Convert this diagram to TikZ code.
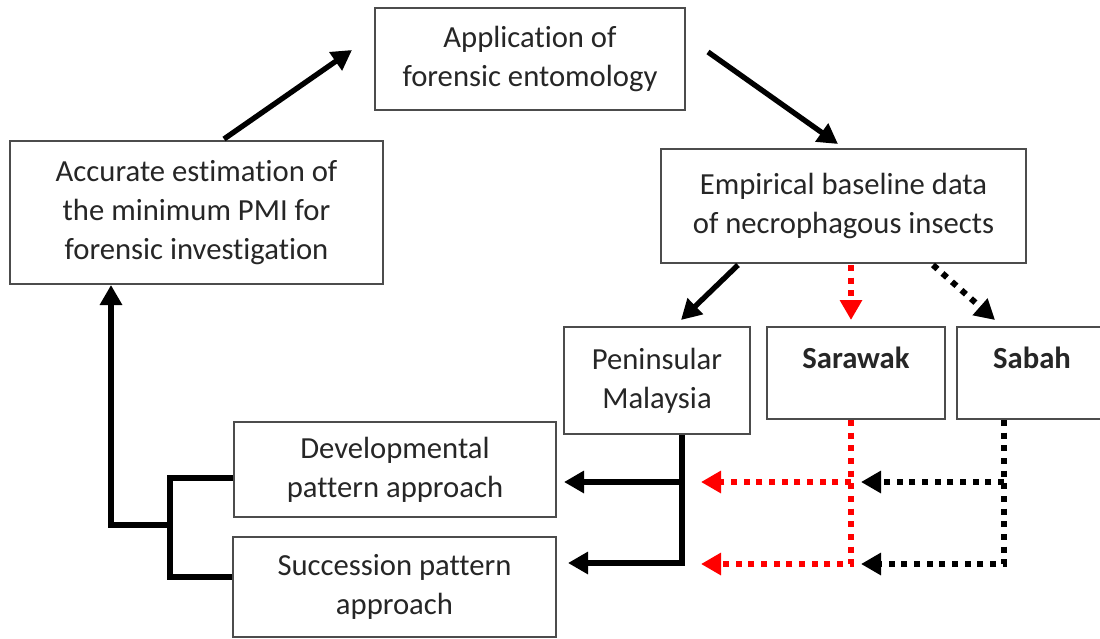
\documentclass[tikz,border=0pt]{standalone}
\usepackage{fontspec}
\setmainfont{Carlito}[Ligatures=CommonOff]
\usetikzlibrary{arrows.meta,calc}
\begin{document}
\begin{tikzpicture}[x=0.75pt,y=-0.75pt,
  box/.style={draw=black!70, line width=1.5pt, align=center, inner sep=0pt,
    font=\fontsize{23}{29}\selectfont, text=black!85},
  tip/.style={-{Triangle[length=15pt,width=16pt]}},
  arr/.style={line width=4pt, tip},
  ln/.style={line width=4pt},
  dotline/.style={line width=4.5pt, dash pattern=on 4.5pt off 5pt, tip},
]
\useasboundingbox (0,0) rectangle (1100,639);
\fill[white] (0,0) rectangle (1100,639);
% boxes
\node[box, minimum width=232.5pt, minimum height=76.5pt] (app) at (530,59)
  {Application of\\forensic entomology};
\node[box, minimum width=279.75pt, minimum height=107.25pt] (acc) at (196.5,212.5)
  {Accurate estimation of\\the minimum PMI for\\forensic investigation};
\node[box, minimum width=273.75pt, minimum height=85.5pt] (emp) at (843.5,206)
  {Empirical baseline data\\of necrophagous insects};
\node[box, minimum width=139.5pt, minimum height=80.25pt] (pen) at (657,380.5)
  {Peninsular\\Malaysia};
\node[box, minimum width=133.5pt, minimum height=69pt, text height=14pt, text depth=21.5pt] (sar) at (856,373)
  {\textbf{Sarawak}};
\node[box, minimum width=112.5pt, minimum height=69pt, text height=14pt, text depth=21.5pt] (sab) at (1032,373)
  {\textbf{Sabah}};
\node[box, minimum width=241.5pt, minimum height=71.25pt] (dev) at (395,469.5)
  {Developmental\\pattern approach};
\node[box, minimum width=242.25pt, minimum height=75pt] (suc) at (394.5,587)
  {Succession pattern\\approach};
% top cycle
\draw[arr] ($(acc.north)+(27.5,-1)$) -- ($(app.west)+(-22,-9)$);
\draw[arr] ($(app.east)+(22,-7)$) -- ($(emp.north)+(-5.5,-4)$);
% from empirical
\draw[arr] ($(emp.south)+(-105.5,1)$) -- ($(pen.north)+(24,-6)$);
\draw[dotline, red] ($(emp.south)+(7.5,1)$) -- ($(sar.north)+(-5,-6)$);
\draw[dotline] ($(emp.south)+(89.5,1)$) -- ($(sab.north)+(-37,-6)$);
% target coordinates
\coordinate (devin) at ($(dev.east)+(7,12.5)$);
\coordinate (sucin) at ($(suc.east)+(11,-24)$);
% peninsular
\coordinate (pj1) at (682,482);
\coordinate (pj2) at (682,563);
\draw[arr] ($(pen.south)+(25,0)$) -- (pj2) -- (sucin);
\draw[arr] (pj1) -- (devin);
% sarawak
\coordinate (rj1) at (851,482);
\coordinate (rj2) at (851,564);
\coordinate (rt1) at (701,482);
\coordinate (rt2) at (701,564);
\draw[dotline, red] ($(sar.south)+(-5,0)$) -- (rj2) -- (rt2);
\draw[dotline, red] (rj1) -- (rt1);
% sabah
\coordinate (bj1) at (1004,482);
\coordinate (bj2) at (1004,564);
\coordinate (bt1) at (861,482);
\coordinate (bt2) at (861,564);
\draw[dotline] ($(sab.south)+(-28,0)$) -- (bj2) -- (bt2);
\draw[dotline] (bj1) -- (bt1);
% bracket to accurate estimation
\coordinate (k1) at (170,478);
\coordinate (k2) at (170,577);
\coordinate (k3) at (170,525);
\coordinate (k4) at (111,525);
\draw[ln] ($(dev.west)+(0,8.5)$) -- (k1) -- (k2) -- ($(suc.west)+(0,-10)$);
\draw[arr] (k3) -- (k4) -- ($(acc.south)+(-85.5,0)$);
\end{tikzpicture}
\end{document}
